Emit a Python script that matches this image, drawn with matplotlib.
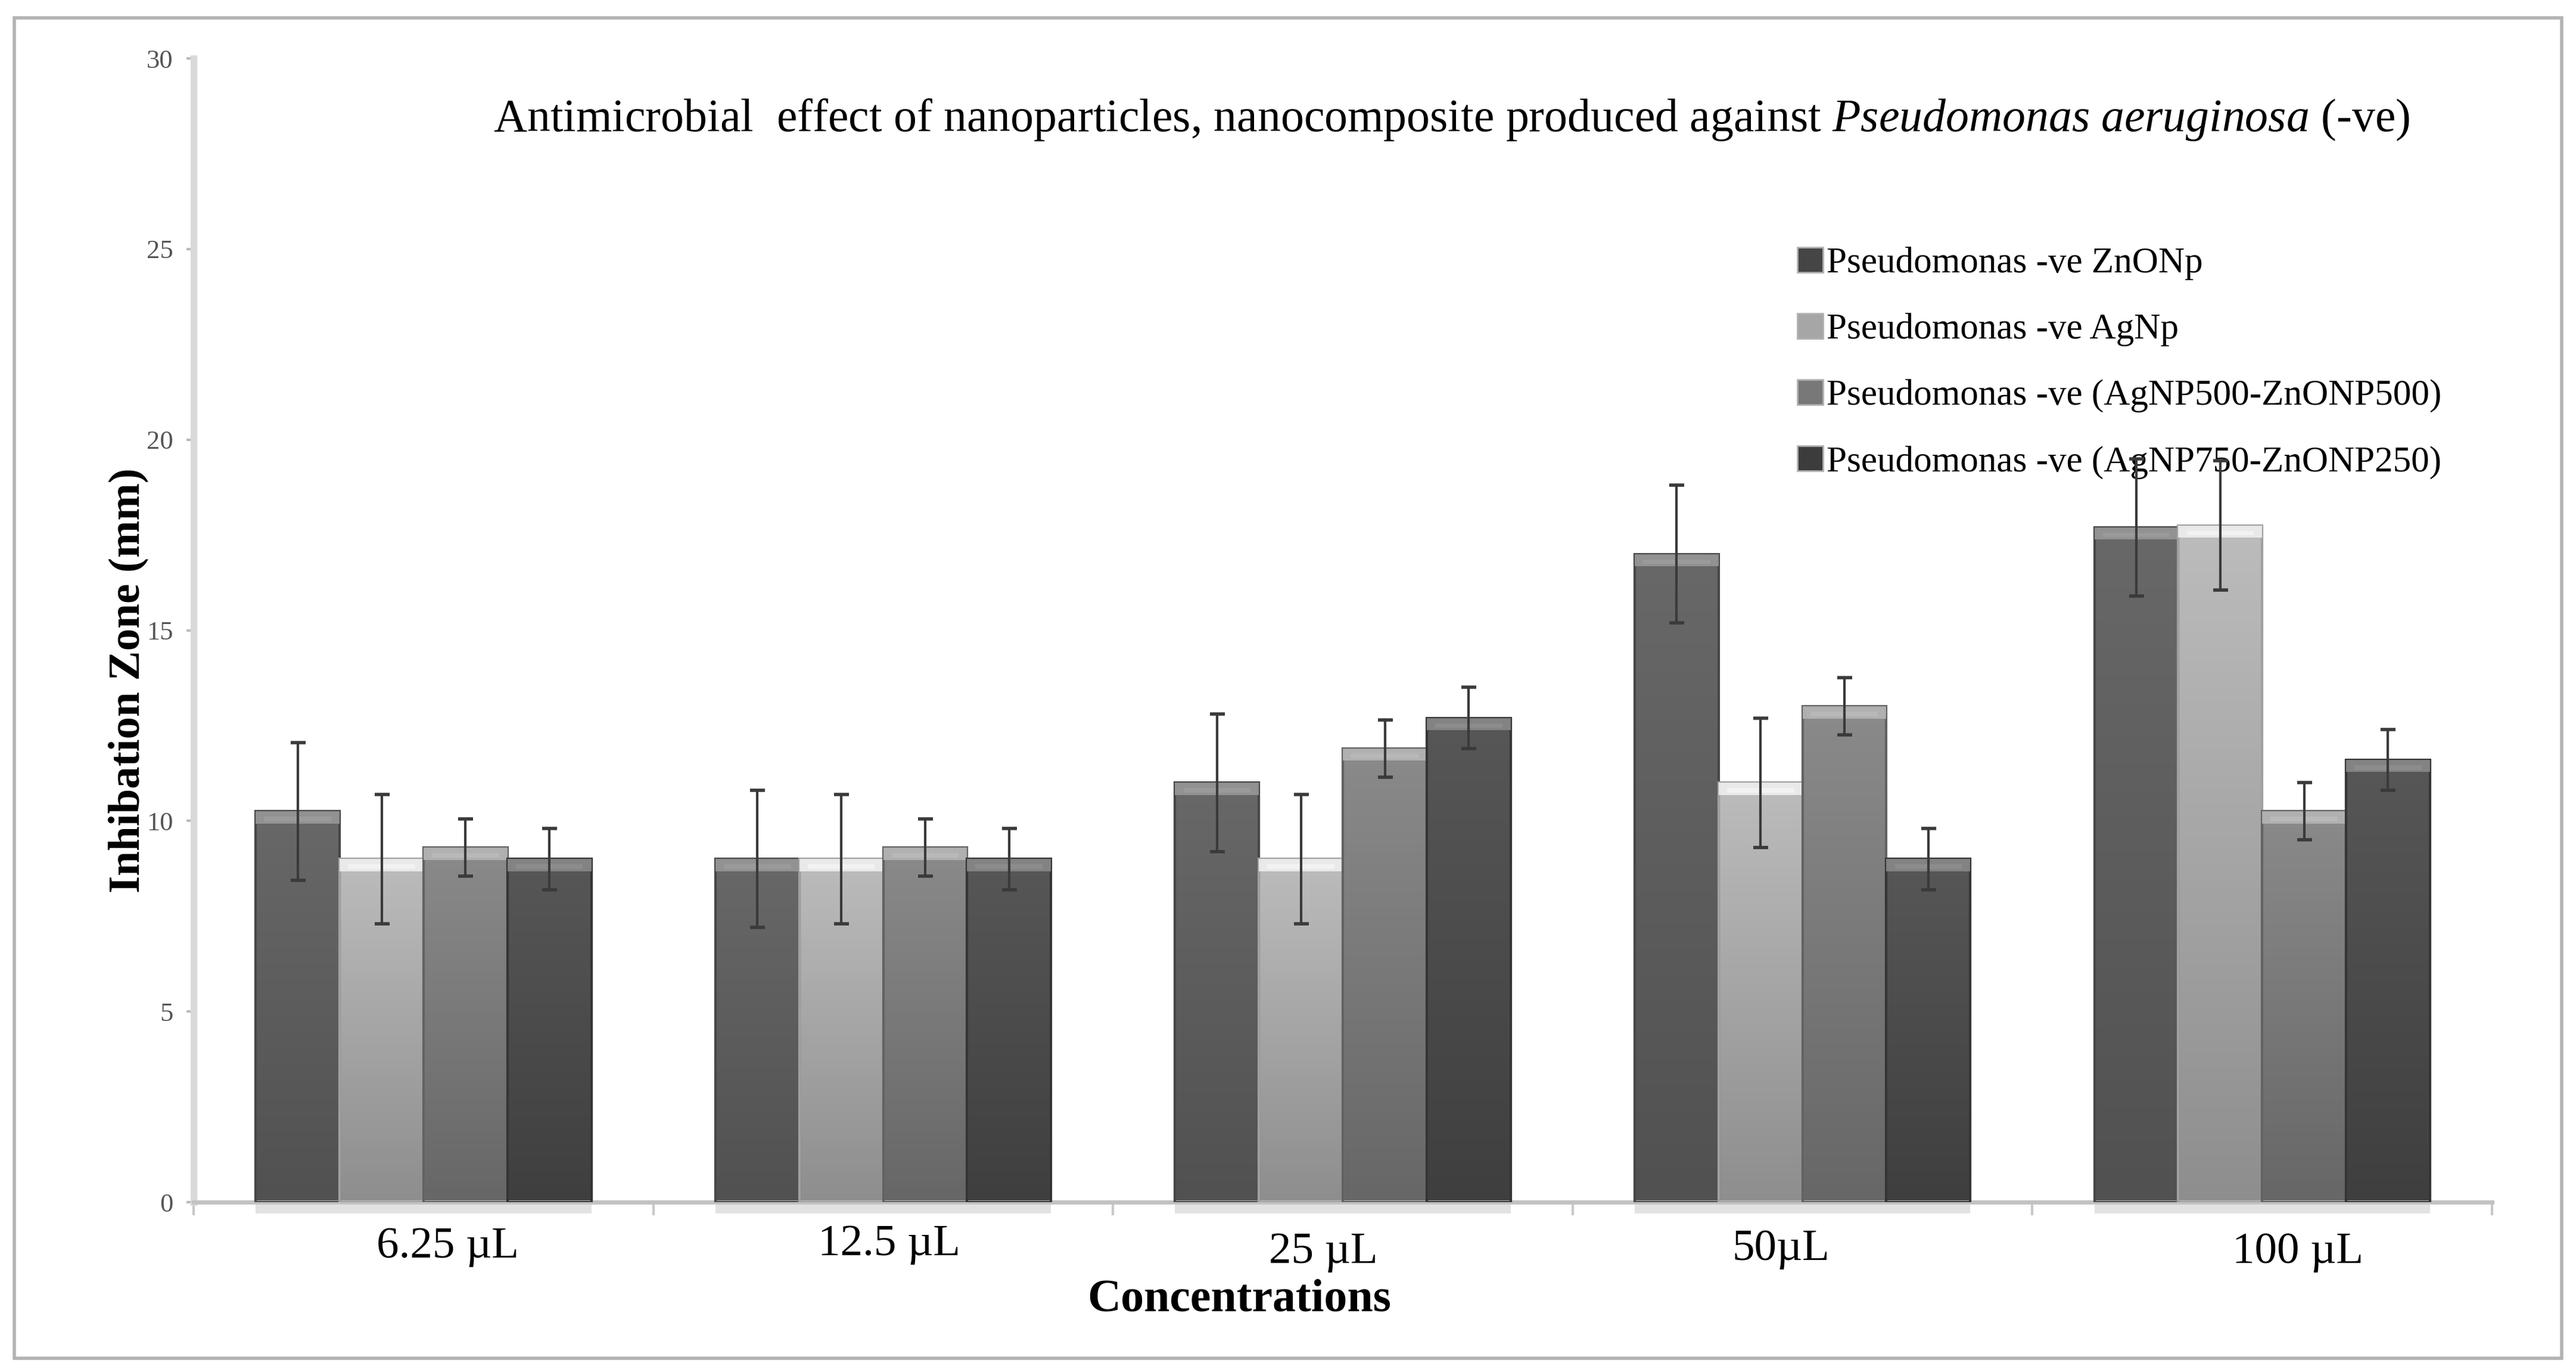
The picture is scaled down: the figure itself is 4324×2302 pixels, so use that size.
import matplotlib
matplotlib.use("Agg")
import matplotlib.pyplot as plt
import numpy as np
from matplotlib.colors import LinearSegmentedColormap
from matplotlib.patches import Patch, Rectangle
from matplotlib.transforms import blended_transform_factory

plt.rcParams["font.family"] = ["Liberation Serif", "DejaVu Serif"]
plt.rcParams["mathtext.fontset"] = "custom"
plt.rcParams["mathtext.rm"] = "Liberation Serif"
plt.rcParams["mathtext.it"] = "Liberation Serif:italic"

# data
concentrations = ["6.25 \u00b5L", "12.5 \u00b5L", "25 \u00b5L", "50\u00b5L", "100 \u00b5L"]
series_names = ["Pseudomonas -ve ZnONp", "Pseudomonas -ve AgNp",
                "Pseudomonas -ve (AgNP500-ZnONP500)", "Pseudomonas -ve (AgNP750-ZnONP250)"]
zno = [10.25, 9.0, 11.0, 17.0, 17.7]
agnp = [9.0, 9.0, 9.0, 11.0, 17.75]
ag500_zn500 = [9.3, 9.3, 11.9, 13.0, 10.25]
ag750_zn250 = [9.0, 9.0, 12.7, 9.0, 11.6]
zno_err = [1.8, 1.8, 1.8, 1.8, 1.8]
agnp_err = [1.7, 1.7, 1.7, 1.7, 1.7]
ag500_err = [0.75, 0.75, 0.75, 0.75, 0.75]
ag750_err = [0.8, 0.8, 0.8, 0.8, 0.8]
y_ticks = [0, 5, 10, 15, 20, 25, 30]

values = [zno, agnp, ag500_zn500, ag750_zn250]
errors = [zno_err, agnp_err, ag500_err, ag750_err]
# (bottom colour, top colour, cap colour, edge colour)
styles = [("#515151", "#686868", "#9a9a9a", "#474747"),
          ("#8e8e8e", "#bcbcbc", "#f2f2f2", "#a0a0a0"),
          ("#676767", "#8a8a8a", "#b8b8b8", "#626262"),
          ("#3f3f3f", "#575757", "#8c8c8c", "#353535")]
legend_colors = ["#454545", "#a6a6a6", "#787878", "#3c3c3c"]

fig = plt.figure(figsize=(43.24, 23.02), dpi=100)
ax = fig.add_axes([0.0752, 0.1238, 0.8922, 0.8336])

x = np.arange(len(concentrations))
width = 0.1825
for i, (vals, errs, st) in enumerate(zip(values, errors, styles)):
    pos = x + (i - 1.5) * width
    bars = ax.bar(pos, vals, width, facecolor="none", edgecolor=st[3], linewidth=3, zorder=3)
    cmap = LinearSegmentedColormap.from_list("g%d" % i, [st[0], st[1]])
    for b in bars:
        x0 = b.get_x()
        h = b.get_height()
        im = ax.imshow(np.linspace(0, 1, 100).reshape(-1, 1), cmap=cmap, origin="lower",
                       extent=[x0, x0 + width, 0, h], aspect="auto", zorder=2)
        im.set_clip_path(b)
    # bevelled top
    ax.bar(pos, [0.32] * len(vals), width, bottom=np.array(vals) - 0.32, color=st[2],
           alpha=0.85, linewidth=0, zorder=3)
    ax.bar(pos, [0.12] * len(vals), width * 0.8, bottom=np.array(vals) - 0.26, color=st[2],
           linewidth=0, zorder=3)
    # soft shadow under the baseline
    ax.bar(pos, [-0.3] * len(vals), width, color="#e2e2e2", linewidth=0, zorder=1, clip_on=False)
    ax.errorbar(pos, vals, yerr=errs, fmt="none", ecolor="#3a3a3a", elinewidth=3,
                capsize=9, capthick=4, zorder=6)

ax.set_xlim(-0.5, len(concentrations) - 0.5)
ax.set_ylim(0, 30)
ax.set_yticks(y_ticks)
ax.set_yticklabels([str(t) for t in y_ticks], fontsize=32, color="#555555")
ax.tick_params(axis="y", length=9, width=3, color="#bbbbbb", pad=16)
ax.set_xticks(np.arange(-0.5, len(concentrations)), minor=False)
ax.set_xticklabels([])
ax.tick_params(axis="x", length=16, width=3, color="#c8c8c8")

for s in ["top", "right"]:
    ax.spines[s].set_visible(False)
ax.spines["left"].set_color("#d9d9d9")
ax.spines["left"].set_linewidth(8)
ax.spines["bottom"].set_color("#c2c2c2")
ax.spines["bottom"].set_linewidth(5)

# category labels, placed a little unevenly as in the original
dx = [0.053, 0.013, -0.043, -0.047, 0.078]
baselines = [0.0835, 0.0851, 0.0795, 0.0817, 0.0795]
trans = blended_transform_factory(ax.transData, fig.transFigure)
for i, lab in enumerate(concentrations):
    ax.text(x[i] + dx[i], baselines[i], lab, transform=trans, ha="center", va="baseline",
            fontsize=54)

fig.text(0.481, 0.0444, "Concentrations", ha="center", va="baseline", fontsize=56,
         fontweight="bold")
fig.text(0.0497, 0.504, "Inhibation Zone (mm)", ha="center", va="center", rotation=90,
         fontsize=54, fontweight="bold")
fig.text(0.5634, 0.9044,
         r"Antimicrobial  effect of nanoparticles, nanocomposite produced against "
         r"$\mathit{Pseudomonas\ aeruginosa}$ (-ve)",
         ha="center", va="baseline", fontsize=56)

handles = [Patch(facecolor=c, edgecolor="#b0b0b0", linewidth=2) for c in legend_colors]
ax.legend(handles, series_names, loc="upper left", bbox_to_anchor=(0.6977, 0.82),
          bbox_transform=fig.transFigure, frameon=False, fontsize=44, borderpad=0,
          borderaxespad=0, handlelength=0.7, handleheight=0.7, handletextpad=0.1,
          labelspacing=0.9)

fig.add_artist(Rectangle((0.0056, 0.01), 0.9889, 0.977, transform=fig.transFigure,
                         fill=False, edgecolor="#b3b3b3", linewidth=4))

fig.savefig("out.png", dpi=100)
